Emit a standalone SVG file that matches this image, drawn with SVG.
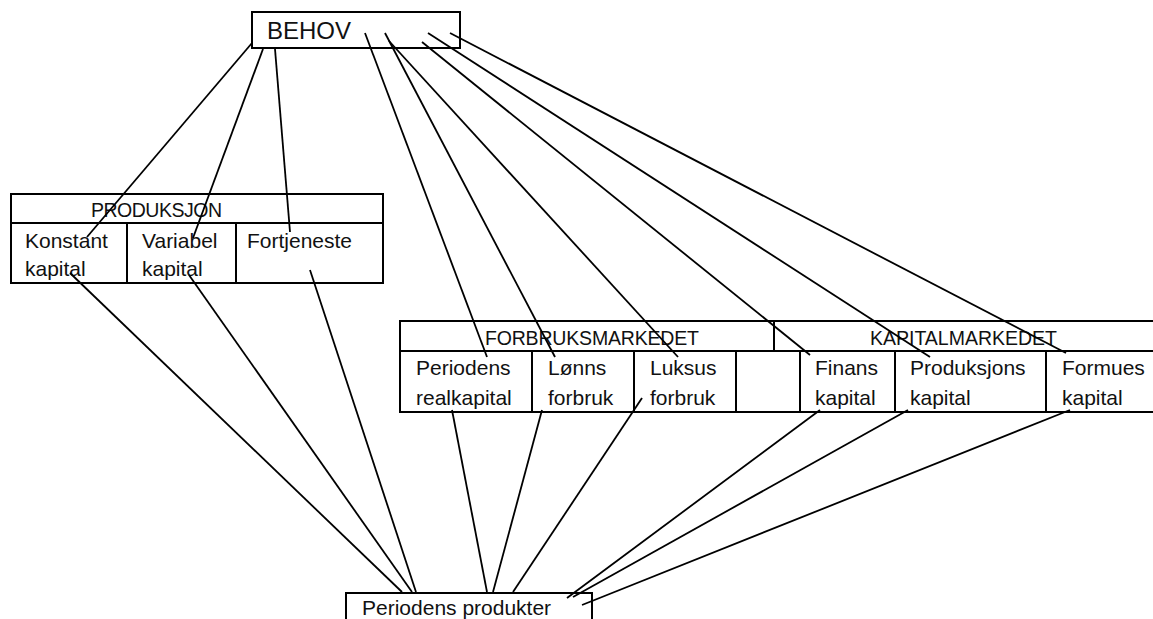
<svg xmlns="http://www.w3.org/2000/svg" width="1153" height="619" viewBox="0 0 1153 619">
<style>
.box{fill:#fff;stroke:#000;stroke-width:2}
.ln{stroke:#000;stroke-width:1.8;fill:none}
.t{font-family:"Liberation Sans",Arial,sans-serif;font-size:21px;fill:#111}
.h{font-family:"Liberation Sans",Arial,sans-serif;font-size:19.5px;fill:#111}
</style>
<rect width="1153" height="619" fill="#fff"/>
<g id="behov">
<rect class="box" x="252" y="12" width="208" height="36"/>
<text class="t" x="267" y="39" style="font-size:24px">BEHOV</text>
</g>
<g id="produksjon">
<rect class="box" x="11" y="194" width="372" height="89"/>
<line class="ln" x1="11" y1="223" x2="383" y2="223" style="stroke-width:2"/>
<line class="ln" x1="127" y1="223" x2="127" y2="283" style="stroke-width:2"/>
<line class="ln" x1="236" y1="223" x2="236" y2="283" style="stroke-width:2"/>
<text class="h" x="91" y="217" textLength="131">PRODUKSJON</text>
<text class="t" x="25" y="248">Konstant</text>
<text class="t" x="25" y="276">kapital</text>
<text class="t" x="142" y="248">Variabel</text>
<text class="t" x="142" y="276">kapital</text>
<text class="t" x="247" y="248">Fortjeneste</text>
</g>
<g id="markeder">
<rect class="box" x="400" y="321" width="760" height="91"/>
<line class="ln" x1="400" y1="351" x2="1153" y2="351" style="stroke-width:2"/>
<line class="ln" x1="774" y1="321" x2="774" y2="351" style="stroke-width:2"/>
<line class="ln" x1="532" y1="351" x2="532" y2="412" style="stroke-width:2"/>
<line class="ln" x1="634" y1="351" x2="634" y2="412" style="stroke-width:2"/>
<line class="ln" x1="736" y1="351" x2="736" y2="412" style="stroke-width:2"/>
<line class="ln" x1="800" y1="351" x2="800" y2="412" style="stroke-width:2"/>
<line class="ln" x1="895" y1="351" x2="895" y2="412" style="stroke-width:2"/>
<line class="ln" x1="1046" y1="351" x2="1046" y2="412" style="stroke-width:2"/>
<text class="h" x="485" y="345" textLength="214">FORBRUKSMARKEDET</text>
<text class="h" x="870" y="345" textLength="187">KAPITALMARKEDET</text>
<text class="t" x="416" y="375">Periodens</text>
<text class="t" x="416" y="405">realkapital</text>
<text class="t" x="548" y="375">Lønns</text>
<text class="t" x="548" y="405">forbruk</text>
<text class="t" x="650" y="375">Luksus</text>
<text class="t" x="650" y="405">forbruk</text>
<text class="t" x="815" y="375">Finans</text>
<text class="t" x="815" y="405">kapital</text>
<text class="t" x="910" y="375">Produksjons</text>
<text class="t" x="910" y="405">kapital</text>
<text class="t" x="1062" y="375">Formues</text>
<text class="t" x="1062" y="405">kapital</text>
</g>
<g id="produkter">
<rect class="box" x="346" y="593" width="246" height="40"/>
<text class="t" x="362" y="615">Periodens produkter</text>
</g>
<g id="connectors">
<line class="ln" x1="252" y1="43" x2="87" y2="237"/>
<line class="ln" x1="263" y1="49" x2="193" y2="238"/>
<line class="ln" x1="275" y1="49" x2="290" y2="232"/>
<line class="ln" x1="365" y1="33" x2="487" y2="357"/>
<line class="ln" x1="385" y1="33" x2="555" y2="357"/>
<line class="ln" x1="389" y1="41" x2="678" y2="357"/>
<line class="ln" x1="422" y1="42" x2="810" y2="355"/>
<line class="ln" x1="428" y1="33" x2="930" y2="357"/>
<line class="ln" x1="450" y1="33" x2="1066" y2="353"/>
<line class="ln" x1="70" y1="273" x2="402" y2="592"/>
<line class="ln" x1="189" y1="275" x2="412" y2="592"/>
<line class="ln" x1="310" y1="270" x2="416" y2="592"/>
<line class="ln" x1="452" y1="410" x2="487" y2="592"/>
<line class="ln" x1="542" y1="410" x2="493" y2="592"/>
<line class="ln" x1="642" y1="398" x2="513" y2="592"/>
<line class="ln" x1="820" y1="410" x2="567" y2="598"/>
<line class="ln" x1="908" y1="410" x2="573" y2="597"/>
<line class="ln" x1="1070" y1="410" x2="582" y2="605"/>
</g>
</svg>
